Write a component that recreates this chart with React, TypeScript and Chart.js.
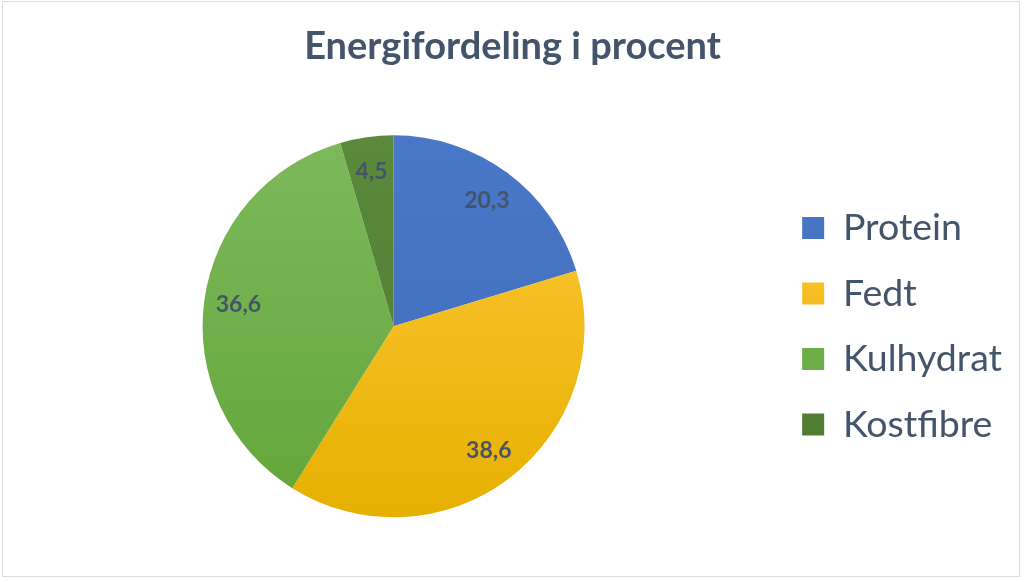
import React, { useEffect, useRef } from "react";
import { Chart, registerables } from "chart.js";

Chart.register(...registerables);

const categories = ["Protein", "Fedt", "Kulhydrat", "Kostfibre"];
const values = [20.3, 38.6, 36.6, 4.5];
const valueLabels = ["20,3", "38,6", "36,6", "4,5"];
const topColors = ["#4a78c9", "#ffc93d", "#7db95c", "#5b8a3c"];
const bottomColors = ["#3f6bb8", "#e6b000", "#63a53a", "#4f7a31"];
const titleText = "Energifordeling i procent";

const TEXT = "#44546A";
const FONT = "Lato, 'Open Sans', sans-serif";

const labelPlugin = {
  id: "sliceLabels",
  afterDatasetsDraw(chart: any) {
    const ctx = chart.ctx;
    const meta = chart.getDatasetMeta(0);
    ctx.save();
    ctx.font = `bold 23px ${FONT}`;
    ctx.fillStyle = TEXT;
    ctx.textAlign = "center";
    ctx.textBaseline = "middle";
    meta.data.forEach((arc: any, i: number) => {
      const p = arc.getProps(["x", "y", "startAngle", "endAngle", "outerRadius"], true);
      const mid = (p.startAngle + p.endAngle) / 2;
      const r = p.outerRadius * 0.82;
      ctx.fillText(valueLabels[i], p.x + Math.cos(mid) * r, p.y + Math.sin(mid) * r);
    });
    ctx.restore();
  },
};

export default function App() {
  const ref = useRef<HTMLCanvasElement>(null);
  useEffect(() => {
    if (!ref.current) return;
    const chart = new Chart(ref.current, {
      type: "pie",
      data: {
        labels: categories,
        datasets: [
          {
            data: values,
            borderWidth: 0,
            backgroundColor: (c: any) => {
              const ch = c.chart;
              const area = ch.chartArea;
              if (!area) return topColors[c.dataIndex];
              const cy = (area.top + area.bottom) / 2;
              const g = ch.ctx.createLinearGradient(0, cy - 191, 0, cy + 191);
              g.addColorStop(0, topColors[c.dataIndex]);
              g.addColorStop(1, bottomColors[c.dataIndex]);
              return g;
            },
          },
        ],
      },
      options: {
        animation: false,
        responsive: false,
        radius: 191,
        layout: { padding: { top: 14, left: 13, right: 12, bottom: 9 } },
        plugins: {
          title: {
            display: true,
            text: titleText,
            color: TEXT,
            font: { family: FONT, size: 38, weight: "bold" },
            padding: 10,
          },
          legend: {
            position: "right",
            fullSize: false,
            labels: {
              color: TEXT,
              font: { family: FONT, size: 37.5 },
              boxWidth: 22,
              boxHeight: 22,
              padding: 28,
            },
          },
          tooltip: { enabled: false },
        },
      } as any,
      plugins: [labelPlugin],
    });
    return () => chart.destroy();
  }, []);
  return (
    <div style={{ position: "fixed", left: 0, top: 0, width: 1024, height: 582, background: "#fff" }}>
      <div
        style={{
          position: "absolute",
          left: 2,
          top: 1,
          width: 1018,
          height: 576,
          border: "1px solid #d9dde4",
          boxSizing: "border-box",
        }}
      />
      <canvas ref={ref} width={1024} height={582} style={{ position: "absolute", left: 0, top: 0 }} />
    </div>
  );
}
